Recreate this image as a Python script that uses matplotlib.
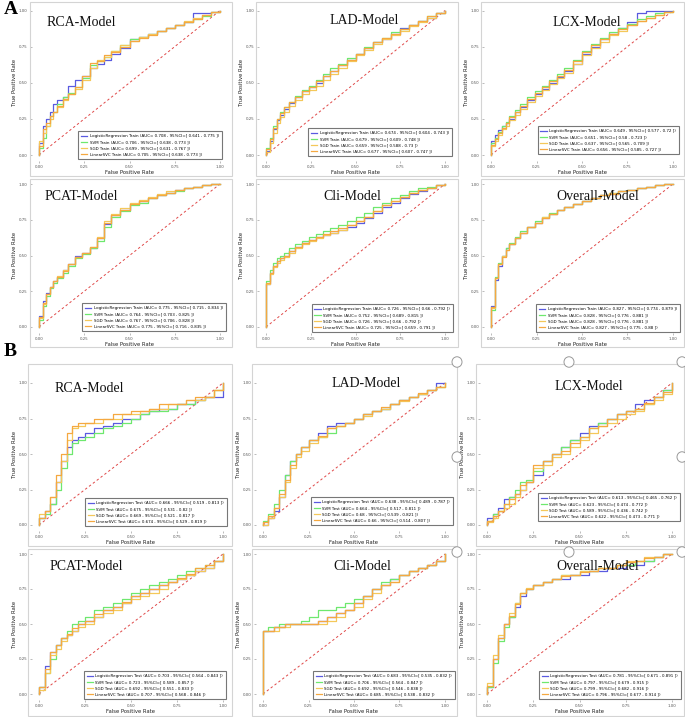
import matplotlib
matplotlib.use('Agg')
import matplotlib.pyplot as plt
from matplotlib.patches import Rectangle, Circle

W, H = 685, 717
fig = plt.figure(figsize=(W / 100, H / 100), dpi=100)

# ---------------- data ----------------
models = ['LogisticRegression', 'SVM', 'SGD', 'LinearSVC']
colors = ['#5a5ae0', '#6ee86e', '#f4c85a', '#f5a840']
tick_vals = [0, 0.25, 0.5, 0.75, 1.0]
tick_labels = ['0.00', '0.25', '0.50', '0.75', '1.00']
chance = [0, 1]

train_fpr = [0, 0, .02, .04, .06, .08, .10, .13, .16, .20, .24, .28, .32, .36, .40,
             .45, .50, .55, .60, .65, .70, .75, .80, .85, .90, .95, 1.0]
test_fpr = [0, 0, .03, .06, .09, .12, .15, .18, .21, .25, .30, .35, .40, .45, .50,
            .55, .60, .65, .70, .75, .80, .85, .90, .95, 1.0]

# A: RCA train
a_rca_lr = [0, .08, .2, .25, .3, .35, .38, .4, .48, .52, .55, .6, .63, .66, .7, .74, .8, .82, .84, .86, .88, .9, .92, .98, .98, .99, 1]
a_rca_svm = [0, .05, .12, .2, .27, .3, .35, .4, .43, .47, .53, .62, .65, .68, .72, .76, .8, .82, .84, .86, .88, .9, .92, .94, .96, .99, 1]
a_rca_sgd = [0, .1, .15, .2, .25, .3, .33, .38, .42, .46, .52, .6, .66, .68, .72, .76, .79, .82, .84, .86, .88, .9, .93, .95, .97, .99, 1]
a_rca_lsvc = [0, .06, .18, .22, .27, .3, .34, .39, .42, .47, .55, .64, .65, .69, .71, .75, .79, .81, .83, .86, .88, .9, .92, .94, .97, .99, 1]
a_rca_auc = ['0.708', '0.706', '0.699', '0.705']
a_rca_lo = ['0.641', '0.638', '0.631', '0.638']
a_rca_hi = ['0.775', '0.773', '0.767', '0.773']

# A: LAD train
a_lad_lr = [0, .03, .1, .18, .24, .28, .32, .36, .4, .44, .47, .5, .55, .58, .62, .66, .7, .74, .78, .8, .84, .88, .9, .93, .95, .98, 1]
a_lad_svm = [0, .05, .12, .2, .25, .3, .33, .37, .41, .45, .48, .52, .56, .6, .63, .67, .7, .75, .78, .81, .85, .87, .9, .93, .96, .98, 1]
a_lad_sgd = [0, .02, .08, .15, .22, .26, .3, .34, .38, .42, .45, .48, .52, .56, .6, .65, .69, .73, .77, .8, .83, .86, .89, .92, .95, .98, 1]
a_lad_lsvc = [0, .04, .11, .19, .25, .29, .33, .37, .4, .44, .47, .51, .55, .58, .62, .66, .7, .74, .78, .81, .84, .87, .9, .93, .96, .98, 1]
a_lad_auc = ['0.674', '0.679', '0.659', '0.677']
a_lad_lo = ['0.604', '0.609', '0.588', '0.607']
a_lad_hi = ['0.743', '0.748', '0.73', '0.747']

# A: LCX train
a_lcx_lr = [0, .1, .14, .17, .2, .22, .25, .3, .33, .38, .42, .46, .5, .54, .58, .63, .7, .75, .8, .84, .88, .92, .98, 1, 1, 1, 1]
a_lcx_svm = [0, .08, .12, .16, .2, .23, .27, .31, .35, .4, .44, .48, .52, .56, .6, .66, .72, .77, .81, .85, .88, .91, .94, .96, .98, .99, 1]
a_lcx_sgd = [0, .06, .1, .14, .18, .2, .24, .28, .32, .37, .41, .45, .49, .53, .57, .63, .69, .74, .78, .83, .86, .9, .93, .95, .97, .99, 1]
a_lcx_lsvc = [0, .07, .11, .15, .19, .22, .26, .3, .34, .39, .43, .47, .51, .55, .59, .65, .71, .76, .8, .84, .87, .9, .93, .95, .97, .99, 1]
a_lcx_auc = ['0.649', '0.651', '0.637', '0.656']
a_lcx_lo = ['0.577', '0.58', '0.565', '0.585']
a_lcx_hi = ['0.72', '0.723', '0.709', '0.727']

# A: PCAT train
a_pcat_lr = [0, .08, .18, .24, .28, .32, .35, .4, .44, .5, .52, .55, .62, .72, .78, .82, .86, .88, .9, .92, .94, .96, .97, .98, .99, 1, 1]
a_pcat_svm = [0, .05, .15, .22, .27, .31, .34, .38, .43, .48, .51, .55, .6, .7, .77, .81, .85, .87, .9, .92, .94, .95, .97, .98, .99, 1, 1]
a_pcat_sgd = [0, .06, .16, .23, .28, .32, .36, .4, .44, .49, .52, .56, .63, .74, .79, .83, .87, .89, .91, .93, .95, .96, .97, .98, .99, 1, 1]
a_pcat_lsvc = [0, .07, .17, .23, .28, .32, .35, .39, .44, .49, .52, .56, .62, .73, .78, .82, .86, .88, .9, .92, .94, .96, .97, .98, .99, 1, 1]
a_pcat_auc = ['0.775', '0.764', '0.767', '0.775']
a_pcat_lo = ['0.715', '0.703', '0.706', '0.716']
a_pcat_hi = ['0.834', '0.825', '0.828', '0.835']

# A: Cli train
a_cli_lr = [0, .3, .38, .43, .46, .48, .5, .53, .56, .59, .61, .63, .64, .66, .68, .7, .73, .76, .8, .84, .87, .9, .93, .95, .97, .99, 1]
a_cli_svm = [0, .32, .4, .45, .48, .5, .52, .55, .58, .6, .63, .65, .67, .69, .71, .74, .77, .8, .84, .87, .9, .92, .95, .97, .98, .99, 1]
a_cli_sgd = [0, .3, .37, .42, .45, .47, .49, .52, .55, .58, .6, .62, .64, .66, .68, .71, .74, .77, .81, .85, .88, .91, .94, .96, .97, .99, 1]
a_cli_lsvc = [0, .31, .38, .43, .46, .48, .5, .53, .56, .59, .61, .63, .65, .67, .69, .71, .74, .77, .81, .85, .88, .91, .94, .96, .97, .99, 1]
a_cli_auc = ['0.726', '0.752', '0.726', '0.725']
a_cli_lo = ['0.66', '0.689', '0.66', '0.659']
a_cli_hi = ['0.792', '0.815', '0.792', '0.791']

# A: Overall train
a_all_lr = [0, .15, .33, .43, .5, .55, .58, .62, .66, .7, .73, .76, .79, .82, .84, .86, .88, .9, .92, .93, .95, .96, .97, .98, .99, 1, 1]
a_all_svm = [0, .12, .35, .45, .5, .55, .59, .63, .67, .7, .74, .77, .8, .82, .84, .86, .88, .9, .92, .94, .95, .96, .97, .98, .99, 1, 1]
a_all_sgd = [0, .13, .34, .44, .5, .54, .58, .62, .66, .7, .73, .77, .79, .82, .84, .86, .88, .9, .92, .94, .95, .96, .97, .98, .99, 1, 1]
a_all_lsvc = [0, .14, .34, .44, .49, .54, .58, .62, .66, .7, .73, .76, .79, .82, .84, .86, .88, .9, .92, .93, .95, .96, .97, .98, .99, 1, 1]
a_all_auc = ['0.827', '0.828', '0.828', '0.827']
a_all_lo = ['0.774', '0.776', '0.776', '0.775']
a_all_hi = ['0.879', '0.881', '0.881', '0.88']

# B: RCA test
b_rca_lr = [0, .05, .1, .15, .3, .45, .55, .6, .62, .65, .68, .7, .72, .75, .75, .78, .8, .82, .82, .85, .85, .88, .9, .9, 1]
b_rca_svm = [0, .05, .08, .15, .25, .4, .5, .58, .6, .62, .65, .68, .7, .72, .75, .78, .8, .8, .82, .85, .85, .88, .9, .95, 1]
b_rca_sgd = [0, .08, .1, .2, .3, .45, .6, .68, .7, .72, .72, .75, .75, .78, .78, .8, .82, .82, .85, .85, .88, .88, .9, .95, 1]
b_rca_lsvc = [0, .05, .1, .2, .35, .5, .65, .7, .72, .72, .75, .75, .78, .78, .8, .8, .82, .85, .85, .85, .88, .9, .9, .95, 1]
b_rca_auc = ['0.666', '0.675', '0.669', '0.674']
b_rca_lo = ['0.519', '0.531', '0.521', '0.529']
b_rca_hi = ['0.813', '0.82', '0.817', '0.819']

# B: LAD test
b_lad_lr = [0, 0, .05, .1, .2, .35, .45, .5, .55, .6, .65, .7, .72, .72, .75, .78, .8, .82, .85, .88, .9, .92, .95, 1, 1]
b_lad_svm = [0, .03, .08, .15, .25, .35, .45, .5, .55, .6, .62, .65, .7, .72, .75, .78, .8, .82, .85, .88, .9, .92, .95, .97, 1]
b_lad_sgd = [0, 0, .05, .12, .2, .3, .4, .48, .52, .58, .62, .68, .7, .72, .75, .77, .8, .82, .85, .87, .9, .92, .95, .97, 1]
b_lad_lsvc = [0, .02, .06, .12, .22, .32, .42, .5, .55, .6, .63, .68, .7, .72, .75, .78, .8, .83, .85, .88, .9, .93, .95, .97, 1]
b_lad_auc = ['0.638', '0.664', '0.68', '0.66']
b_lad_lo = ['0.489', '0.517', '0.539', '0.514']
b_lad_hi = ['0.787', '0.811', '0.821', '0.807']

# B: LCX test
b_lcx_lr = [0, .05, .08, .12, .18, .2, .22, .25, .3, .35, .45, .5, .55, .6, .65, .7, .72, .75, .78, .8, .85, .88, .9, .95, 1]
b_lcx_svm = [0, .03, .08, .1, .15, .2, .25, .3, .32, .38, .45, .5, .55, .6, .62, .68, .72, .75, .78, .8, .82, .85, .9, .95, 1]
b_lcx_sgd = [0, .02, .05, .1, .12, .15, .2, .25, .3, .4, .42, .48, .5, .55, .6, .65, .7, .72, .75, .78, .8, .85, .88, .92, 1]
b_lcx_lsvc = [0, .03, .06, .1, .15, .18, .22, .28, .3, .42, .45, .5, .52, .58, .62, .68, .7, .75, .78, .8, .82, .86, .9, .94, 1]
b_lcx_auc = ['0.613', '0.623', '0.589', '0.622']
b_lcx_lo = ['0.465', '0.474', '0.436', '0.473']
b_lcx_hi = ['0.762', '0.772', '0.742', '0.771']

# B: PCAT test
b_pcat_lr = [0, .05, .2, .3, .35, .4, .42, .45, .5, .52, .55, .6, .62, .65, .7, .72, .75, .78, .8, .82, .85, .88, .9, .95, 1]
b_pcat_svm = [0, .05, .15, .25, .35, .4, .45, .5, .52, .55, .6, .62, .65, .68, .72, .75, .78, .8, .82, .85, .88, .9, .92, .95, 1]
b_pcat_sgd = [0, .03, .15, .28, .32, .38, .42, .45, .48, .5, .55, .58, .6, .65, .68, .7, .72, .75, .8, .82, .85, .88, .9, .95, 1]
b_pcat_lsvc = [0, .05, .18, .3, .35, .4, .43, .47, .5, .52, .57, .6, .62, .66, .7, .72, .75, .78, .8, .83, .86, .9, .92, .95, 1]
b_pcat_auc = ['0.703', '0.723', '0.692', '0.707']
b_pcat_lo = ['0.564', '0.589', '0.551', '0.568']
b_pcat_hi = ['0.843', '0.857', '0.833', '0.846']

# B: Cli test
b_cli_lr = [0, .45, .45, .48, .48, .5, .5, .5, .5, .5, .52, .55, .58, .6, .65, .7, .75, .78, .82, .85, .88, .9, .92, .95, 1]
b_cli_svm = [0, .45, .48, .48, .5, .5, .5, .5, .52, .55, .6, .6, .62, .65, .68, .7, .75, .8, .82, .85, .88, .9, .92, .95, 1]
b_cli_sgd = [0, .45, .45, .45, .48, .48, .5, .5, .5, .5, .5, .52, .55, .6, .62, .68, .72, .78, .8, .85, .88, .9, .92, .95, 1]
b_cli_lsvc = [0, .45, .45, .48, .48, .5, .5, .5, .5, .5, .52, .55, .58, .6, .65, .7, .75, .78, .8, .85, .88, .9, .92, .95, 1]
b_cli_auc = ['0.683', '0.706', '0.692', '0.685']
b_cli_lo = ['0.535', '0.564', '0.546', '0.538']
b_cli_hi = ['0.832', '0.847', '0.838', '0.832']

# B: Overall test
b_all_lr = [0, .05, .25, .4, .5, .55, .62, .7, .75, .78, .8, .82, .82, .85, .85, .88, .88, .9, .9, .92, .92, .95, .98, 1, 1]
b_all_svm = [0, .05, .22, .38, .48, .55, .65, .72, .75, .78, .8, .82, .85, .85, .88, .88, .9, .9, .92, .92, .95, .95, .98, 1, 1]
b_all_sgd = [0, .08, .28, .42, .5, .58, .65, .72, .76, .78, .8, .82, .85, .85, .88, .88, .9, .9, .92, .95, .95, .98, .98, 1, 1]
b_all_lsvc = [0, .06, .25, .4, .5, .56, .64, .72, .75, .78, .8, .82, .84, .85, .87, .88, .9, .9, .92, .94, .95, .97, .98, 1, 1]
b_all_auc = ['0.781', '0.797', '0.799', '0.796']
b_all_lo = ['0.671', '0.679', '0.682', '0.677']
b_all_hi = ['0.891', '0.915', '0.916', '0.914']

# ---------------- layout (pixels) ----------------
colsA = [(39, 220), (266, 445), (491, 673)]
rowsA = [(10.5, 155), (184, 327)]
colsB = [(39, 223), (263, 445), (487, 672)]
rowsB = [(383, 525), (554, 694)]

panels = [
    ('RCA-Model', 'Train', train_fpr, [a_rca_lr, a_rca_svm, a_rca_sgd, a_rca_lsvc], a_rca_auc, a_rca_lo, a_rca_hi, colsA[0], rowsA[0], (47, 23), (222, 159)),
    ('LAD-Model', 'Train', train_fpr, [a_lad_lr, a_lad_svm, a_lad_sgd, a_lad_lsvc], a_lad_auc, a_lad_lo, a_lad_hi, colsA[1], rowsA[0], (330, 21), (452, 156)),
    ('LCX-Model', 'Train', train_fpr, [a_lcx_lr, a_lcx_svm, a_lcx_sgd, a_lcx_lsvc], a_lcx_auc, a_lcx_lo, a_lcx_hi, colsA[2], rowsA[0], (553, 22), (679, 154)),
    ('PCAT-Model', 'Train', train_fpr, [a_pcat_lr, a_pcat_svm, a_pcat_sgd, a_pcat_lsvc], a_pcat_auc, a_pcat_lo, a_pcat_hi, colsA[0], rowsA[1], (45, 196), (226, 331)),
    ('Cli-Model', 'Train', train_fpr, [a_cli_lr, a_cli_svm, a_cli_sgd, a_cli_lsvc], a_cli_auc, a_cli_lo, a_cli_hi, colsA[1], rowsA[1], (323, 196), (453, 332)),
    ('Overall-Model', 'Train', train_fpr, [a_all_lr, a_all_svm, a_all_sgd, a_all_lsvc], a_all_auc, a_all_lo, a_all_hi, colsA[2], rowsA[1], (556, 196), (680, 332)),
    ('RCA-Model', 'Test', test_fpr, [b_rca_lr, b_rca_svm, b_rca_sgd, b_rca_lsvc], b_rca_auc, b_rca_lo, b_rca_hi, colsB[0], rowsB[0], (55, 388), (227, 526)),
    ('LAD-Model', 'Test', test_fpr, [b_lad_lr, b_lad_svm, b_lad_sgd, b_lad_lsvc], b_lad_auc, b_lad_lo, b_lad_hi, colsB[1], rowsB[0], (332, 384), (453, 525)),
    ('LCX-Model', 'Test', test_fpr, [b_lcx_lr, b_lcx_svm, b_lcx_sgd, b_lcx_lsvc], b_lcx_auc, b_lcx_lo, b_lcx_hi, colsB[2], rowsB[0], (555, 386), (680, 521)),
    ('PCAT-Model', 'Test', test_fpr, [b_pcat_lr, b_pcat_svm, b_pcat_sgd, b_pcat_lsvc], b_pcat_auc, b_pcat_lo, b_pcat_hi, colsB[0], rowsB[1], (50, 566), (226, 699)),
    ('Cli-Model', 'Test', test_fpr, [b_cli_lr, b_cli_svm, b_cli_sgd, b_cli_lsvc], b_cli_auc, b_cli_lo, b_cli_hi, colsB[1], rowsB[1], (333, 566), (455, 699)),
    ('Overall-Model', 'Test', test_fpr, [b_all_lr, b_all_svm, b_all_sgd, b_all_lsvc], b_all_auc, b_all_lo, b_all_hi, colsB[2], rowsB[1], (556, 566), (681, 699)),
]

boxes = [(30, 2, 232, 176), (256, 2, 458, 176), (481, 2, 684, 176),
         (30, 179, 232, 347), (256, 179, 458, 347), (481, 179, 684, 347),
         (28, 364, 232, 546), (252, 364, 457, 546), (476, 364, 684, 546),
         (28, 549, 232, 716), (252, 549, 457, 716), (476, 549, 684, 716)]

for (x0, y0, x1, y1) in boxes:
    fig.patches.append(Rectangle((x0 / W, 1 - y1 / H), (x1 - x0) / W, (y1 - y0) / H,
                                 transform=fig.transFigure, fill=False,
                                 ec='#d4d4d4', lw=0.8))

pad = 0.04
for (title, split, fpr, curves, aucs, los, his, (cx0, cx1), (ry0, ry1), tpos, lpos) in panels:
    w = cx1 - cx0
    h = ry1 - ry0
    L = cx0 - pad * w
    R = cx1 + pad * w
    T = ry0 - pad * h
    B = ry1 + pad * h
    ax = fig.add_axes([L / W, 1 - B / H, (R - L) / W, (B - T) / H])
    ax.set_xlim(-pad, 1 + pad)
    ax.set_ylim(-pad, 1 + pad)
    for s in ax.spines.values():
        s.set_visible(False)
    ax.plot(chance, chance, color='#e04848', lw=0.7, ls=(0, (2.5, 2.5)))
    handles = []
    for m, tpr, col, a, lo, hi in zip(models, curves, colors, aucs, los, his):
        ln, = ax.plot(fpr, tpr, drawstyle='steps-post', color=col, lw=0.9,
                      label=f'{m} {split} (AUC= {a} , 95%CI=[ {lo} , {hi} ])')
        handles.append(ln)
    ax.set_xticks(tick_vals)
    ax.set_xticklabels(tick_labels)
    ax.set_yticks(tick_vals)
    ax.set_yticklabels(tick_labels)
    ax.tick_params(labelsize=2.8, labelcolor='#555555', color='#888888',
                   length=1.5, width=0.4, pad=1.5)
    ax.set_xlabel('False Positive Rate', fontsize=3.8, labelpad=1.0, color='#222222')
    ax.set_ylabel('True Positive Rate', fontsize=3.8, labelpad=1.5, color='#222222')
    leg = ax.legend(handles=handles, loc='lower right',
                    bbox_to_anchor=(lpos[0] / W, 1 - lpos[1] / H),
                    bbox_transform=fig.transFigure, fontsize=2.9, frameon=True,
                    fancybox=False, edgecolor='#555555', handlelength=1.6,
                    handletextpad=0.6, borderpad=0.7, labelspacing=0.5,
                    borderaxespad=0)
    leg.get_frame().set_linewidth(0.8)
    fig.text(tpos[0] / W, 1 - tpos[1] / H, title, family='Liberation Serif',
             fontsize=10, ha='left', va='center', color='#111111')

fig.text(4 / W, 1 - 10 / H, 'A', family='Liberation Serif', fontsize=14,
         fontweight='bold', ha='left', va='center')
fig.text(4 / W, 1 - 352 / H, 'B', family='Liberation Serif', fontsize=14,
         fontweight='bold', ha='left', va='center')

# selection handles visible in the reference screenshot
handle_pts = [(457, 362), (569, 362), (682, 362), (457, 457), (682, 457),
              (457, 552), (569, 552), (682, 552)]
for (hx, hy) in handle_pts:
    fig.patches.append(Circle((hx / W, 1 - hy / H), 5 / W, transform=fig.transFigure,
                              fc='white', ec='#999999', lw=0.7))

fig.savefig('out.png', dpi=100)
